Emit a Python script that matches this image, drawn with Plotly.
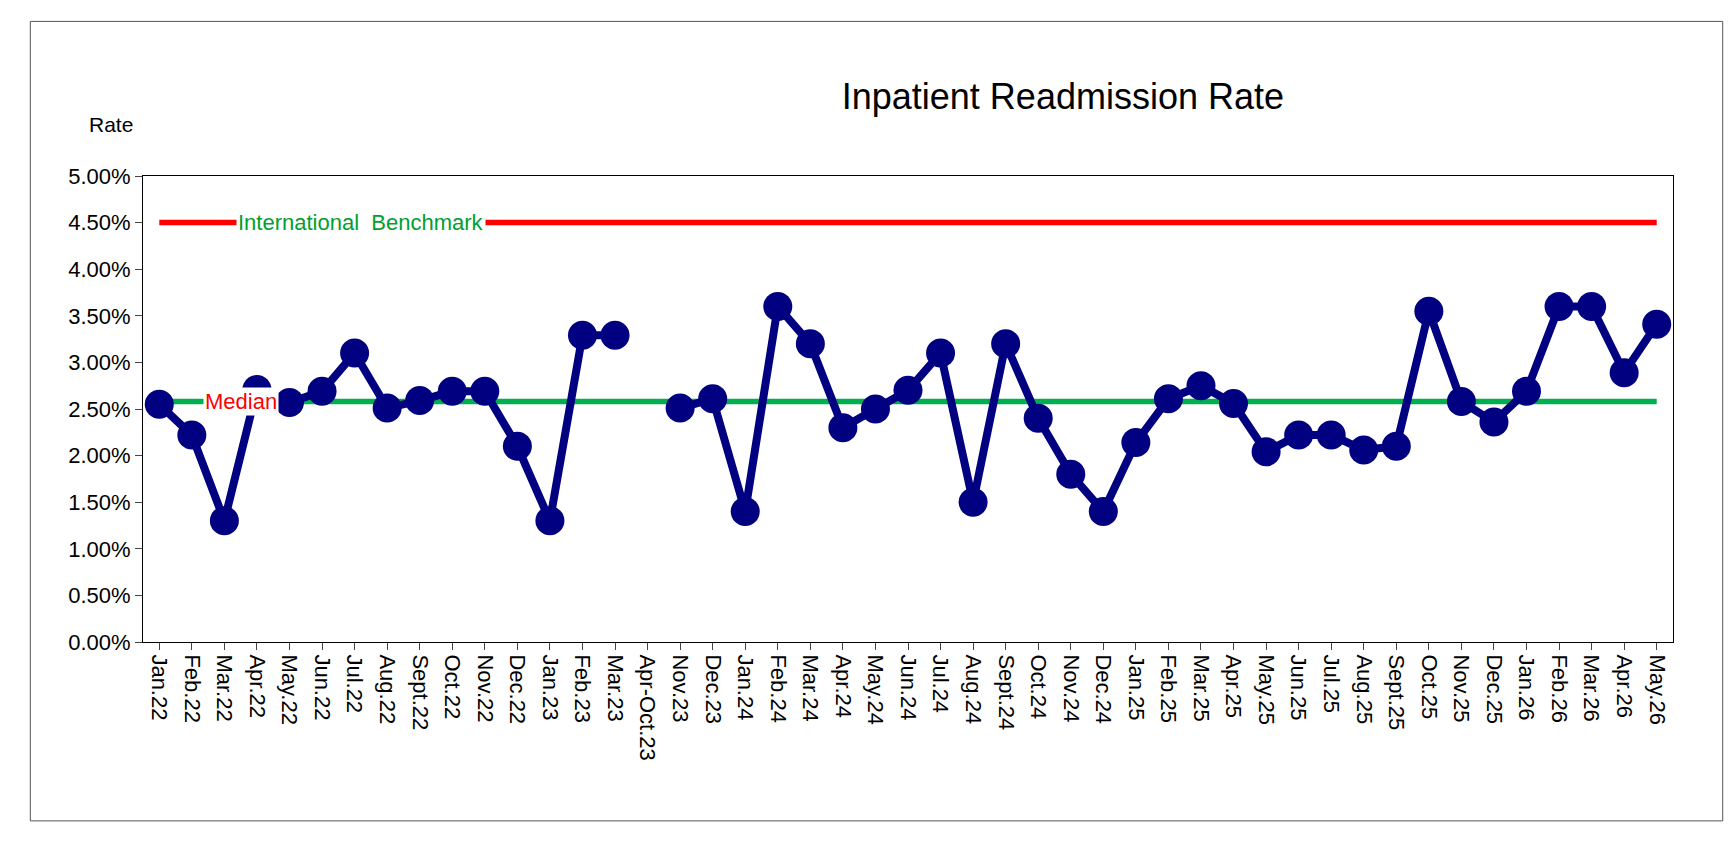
import plotly.graph_objects as go

categories = ["Jan.22","Feb.22","Mar.22","Apr.22","May.22","Jun.22","Jul.22","Aug.22","Sept.22","Oct.22","Nov.22","Dec.22",
 "Jan.23","Feb.23","Mar.23","Apr-Oct.23","Nov.23","Dec.23","Jan.24","Feb.24","Mar.24","Apr.24","May.24","Jun.24","Jul.24",
 "Aug.24","Sept.24","Oct.24","Nov.24","Dec.24","Jan.25","Feb.25","Mar.25","Apr.25","May.25","Jun.25","Jul.25","Aug.25",
 "Sept.25","Oct.25","Nov.25","Dec.25","Jan.26","Feb.26","Mar.26","Apr.26","May.26"]
rate = [2.55,2.22,1.30,2.71,2.57,2.69,3.10,2.51,2.59,2.69,2.69,2.10,
 1.30,3.29,3.29,None,2.51,2.61,1.40,3.60,3.20,2.30,2.50,2.70,3.10,
 1.50,3.20,2.40,1.80,1.40,2.14,2.61,2.75,2.56,2.04,2.22,2.22,2.06,
 2.10,3.55,2.58,2.36,2.69,3.60,3.60,2.89,3.41]
median = 2.58
benchmark = 4.5
yticks = [0,0.5,1,1.5,2,2.5,3,3.5,4,4.5,5]

S = 1732/1568
def s(v): return v*S
L, R, T, B = s(122), s(1507), s(152), s(574)
PW, PH = R-L, B-T

x = list(range(len(categories)))
fig = go.Figure()
fig.add_trace(go.Scatter(x=x, y=[benchmark]*len(x), mode="lines", line=dict(color="#ff0000", width=5.5), hoverinfo="skip"))
fig.add_trace(go.Scatter(x=x, y=[median]*len(x), mode="lines", line=dict(color="#00b050", width=5.5), hoverinfo="skip"))
fig.add_trace(go.Scatter(x=x, y=rate, mode="lines+markers", connectgaps=False,
    line=dict(color="#000080", width=8), marker=dict(color="#000080", size=29)))

fig.add_annotation(x=2.5, y=median, text="Median", showarrow=False, bgcolor="white",
    font=dict(color="#ff0000", size=22, family="Arial"), xref="x", yref="y")
fig.add_annotation(x=6.2, y=benchmark, text="International  Benchmark", showarrow=False, bgcolor="white",
    font=dict(color="#00a030", size=22, family="Arial"), xref="x", yref="y")
fig.add_annotation(x=(s(93)-L)/PW, y=1+(T-s(105))/PH, xref="paper", yref="paper", text="Rate",
    showarrow=False, xanchor="center", yanchor="middle", font=dict(size=21))

fig.update_layout(
    width=1732, height=841, showlegend=False, plot_bgcolor="white", paper_bgcolor="white",
    margin=dict(l=L, r=1732-R, t=T, b=841-B),
    font=dict(family="Arial", size=22, color="black"),
    title=dict(text="Inpatient Readmission Rate", x=s(955)/1732, xanchor="center", y=1-s(80)/841, yanchor="middle",
               font=dict(size=36, family="Arial")),
    shapes=[dict(type="rect", xref="paper", yref="paper",
                 x0=(s(20)-L)/PW, x1=(s(1552)-L)/PW, y0=-(s(736)-B)/PH, y1=1+(T-s(12))/PH,
                 line=dict(color="#555", width=1))],
)

fig.update_xaxes(tickvals=x, ticktext=categories, tickangle=90, range=[-0.5, len(x)-0.5],
    tickson="boundaries", ticks="outside", ticklen=7, showline=True, linecolor="black", mirror=True,
    showgrid=False, tickfont=dict(size=22))
fig.update_yaxes(range=[0,5], tickvals=yticks, ticktext=[f"{v:.2f}%" for v in yticks],
    ticks="outside", ticklen=7, showline=True, linecolor="black", mirror=True, showgrid=False,
    tickfont=dict(size=22), zeroline=False)
fig.write_html("out.html")
